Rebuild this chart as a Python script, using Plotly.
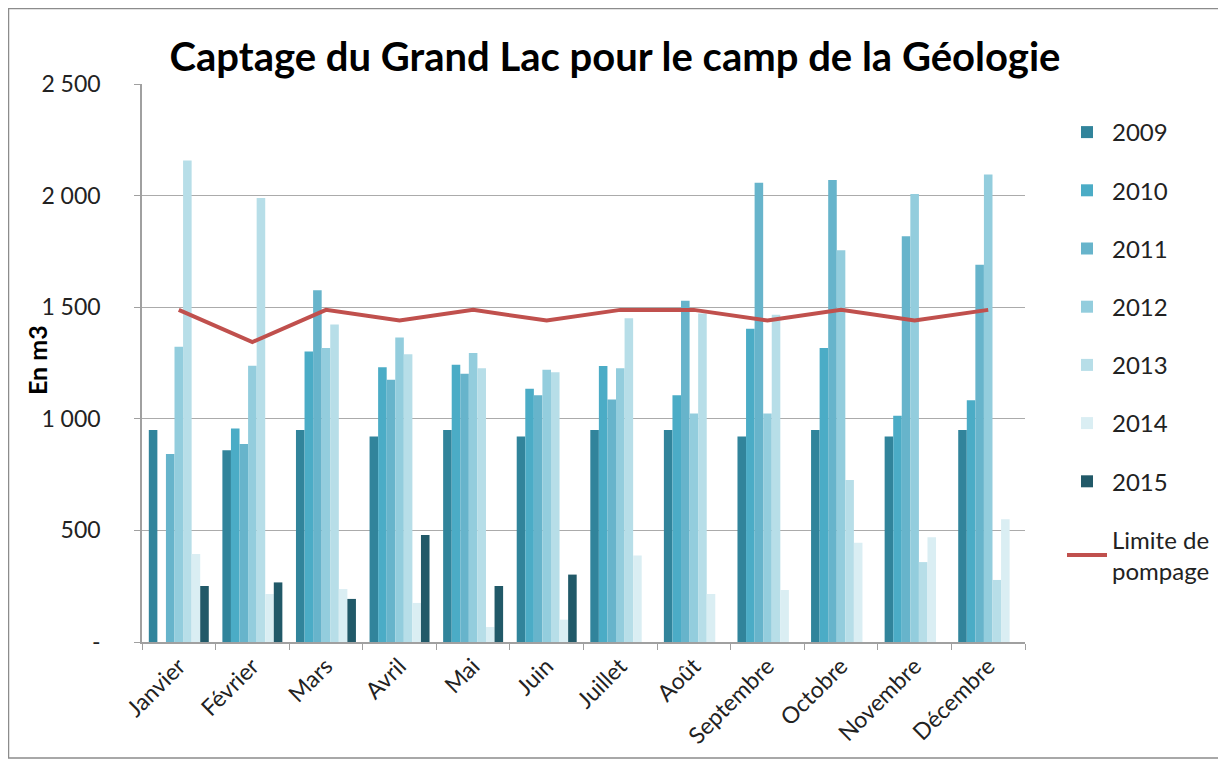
import plotly.graph_objects as go

months = ["Janvier", "Février", "Mars", "Avril", "Mai", "Juin", "Juillet",
          "Août", "Septembre", "Octobre", "Novembre", "Décembre"]

y2009 = [950, 859, 950, 921, 950, 921, 950, 950, 921, 950, 921, 950]
y2010 = [0, 957, 1301, 1231, 1242, 1135, 1236, 1105, 1404, 1317, 1014, 1083]
y2011 = [842, 887, 1576, 1175, 1202, 1105, 1087, 1529, 2058, 2070, 1818, 1690]
y2012 = [1323, 1238, 1317, 1364, 1295, 1220, 1226, 1024, 1024, 1755, 2007, 2094]
y2013 = [2157, 1989, 1422, 1289, 1226, 1208, 1450, 1472, 1466, 726, 358, 278]
y2014 = [394, 215, 237, 175, 67, 100, 388, 215, 233, 445, 469, 550]
y2015 = [251, 267, 193, 479, 251, 302, None, None, None, None, None, None]
limite = [1488, 1344, 1488, 1440, 1488, 1440, 1488, 1488, 1440, 1488, 1440, 1488]

series = [
    ("2009", y2009, "#31849B"),
    ("2010", y2010, "#4BACC6"),
    ("2011", y2011, "#67B4CB"),
    ("2012", y2012, "#93CDDD"),
    ("2013", y2013, "#B7DEE8"),
    ("2014", y2014, "#DAEEF3"),
    ("2015", y2015, "#215968"),
]

ytickvals = [0, 500, 1000, 1500, 2000, 2500]
yticktext = ["-", "500", "1 000", "1 500", "2 000", "2 500"]

FONT = "Lato"
OFF = 8  # page body margin
W, H = 1226, 764
L = 142 - OFF
T = 84 - OFF
R = W - (1025 - OFF)
B = H - (642 - OFF)
pw = W - L - R
ph = H - T - B

fig = go.Figure()
for name, vals, col in series:
    fig.add_trace(go.Bar(x=months, y=vals, name=name, marker_color=col,
                         marker_line_width=0, legendgroup=name))
fig.add_trace(go.Scatter(x=months, y=limite, name="Limite de<br>pompage",
                         mode="lines", line=dict(color="#C0504D", width=4),
                         legendgroup="lim"))


def px_x(px):
    return (px - L) / pw


def px_y(py):
    return (H - B - py) / ph


# outer chart border
fig.add_shape(type="rect", xref="paper", yref="paper",
              x0=px_x(0.5), x1=px_x(1214), y0=px_y(750), y1=px_y(0.5),
              line=dict(color="#8C8C8C", width=1.5), layer="below")

# y-axis title placed like the original (overlapping the label column)
fig.add_annotation(text="<b>En m3</b>", textangle=-90, showarrow=False,
                   xref="paper", yref="paper",
                   x=px_x(37 - OFF), y=px_y(360 - OFF),
                   xanchor="center", yanchor="middle",
                   font=dict(size=25, color="#000000", family=FONT))

fig.update_layout(
    width=W, height=H,
    margin=dict(l=L, r=R, t=T, b=B, pad=0, autoexpand=False),
    paper_bgcolor="white", plot_bgcolor="white",
    font=dict(family=FONT, color="#222222", size=22),
    title=dict(text="<b>Captage du Grand Lac pour le camp de la Géologie</b>",
               x=(615 - OFF) / W, xanchor="center", xref="container",
               y=1 - (57 - OFF) / H, yanchor="middle", yref="container",
               font=dict(size=40, color="#000000", family=FONT)),
    barmode="group", bargap=0.185, bargroupgap=0,
    legend=dict(x=px_x(1062 - OFF), xanchor="left", y=px_y(110 - OFF), yanchor="top",
                font=dict(size=24, color="#222222", family=FONT),
                tracegroupgap=24, itemwidth=40, bgcolor="rgba(0,0,0,0)"),
    xaxis=dict(showline=True, linecolor="#A0A0A0", linewidth=1.5,
               ticks="outside", ticklen=6, tickcolor="#A0A0A0",
               tickson="boundaries", tickangle=-45,
               tickfont=dict(size=23), showgrid=False),
    yaxis=dict(range=[0, 2500], tickvals=ytickvals, ticktext=yticktext,
               showline=True, linecolor="#A0A0A0", linewidth=1.5,
               ticks="outside", ticklen=6, tickcolor="#A0A0A0",
               gridcolor="#ABABAB", gridwidth=1.2, zeroline=False,
               tickfont=dict(size=23), ticklabelstandoff=29),
)

fig.write_html("out.html")
